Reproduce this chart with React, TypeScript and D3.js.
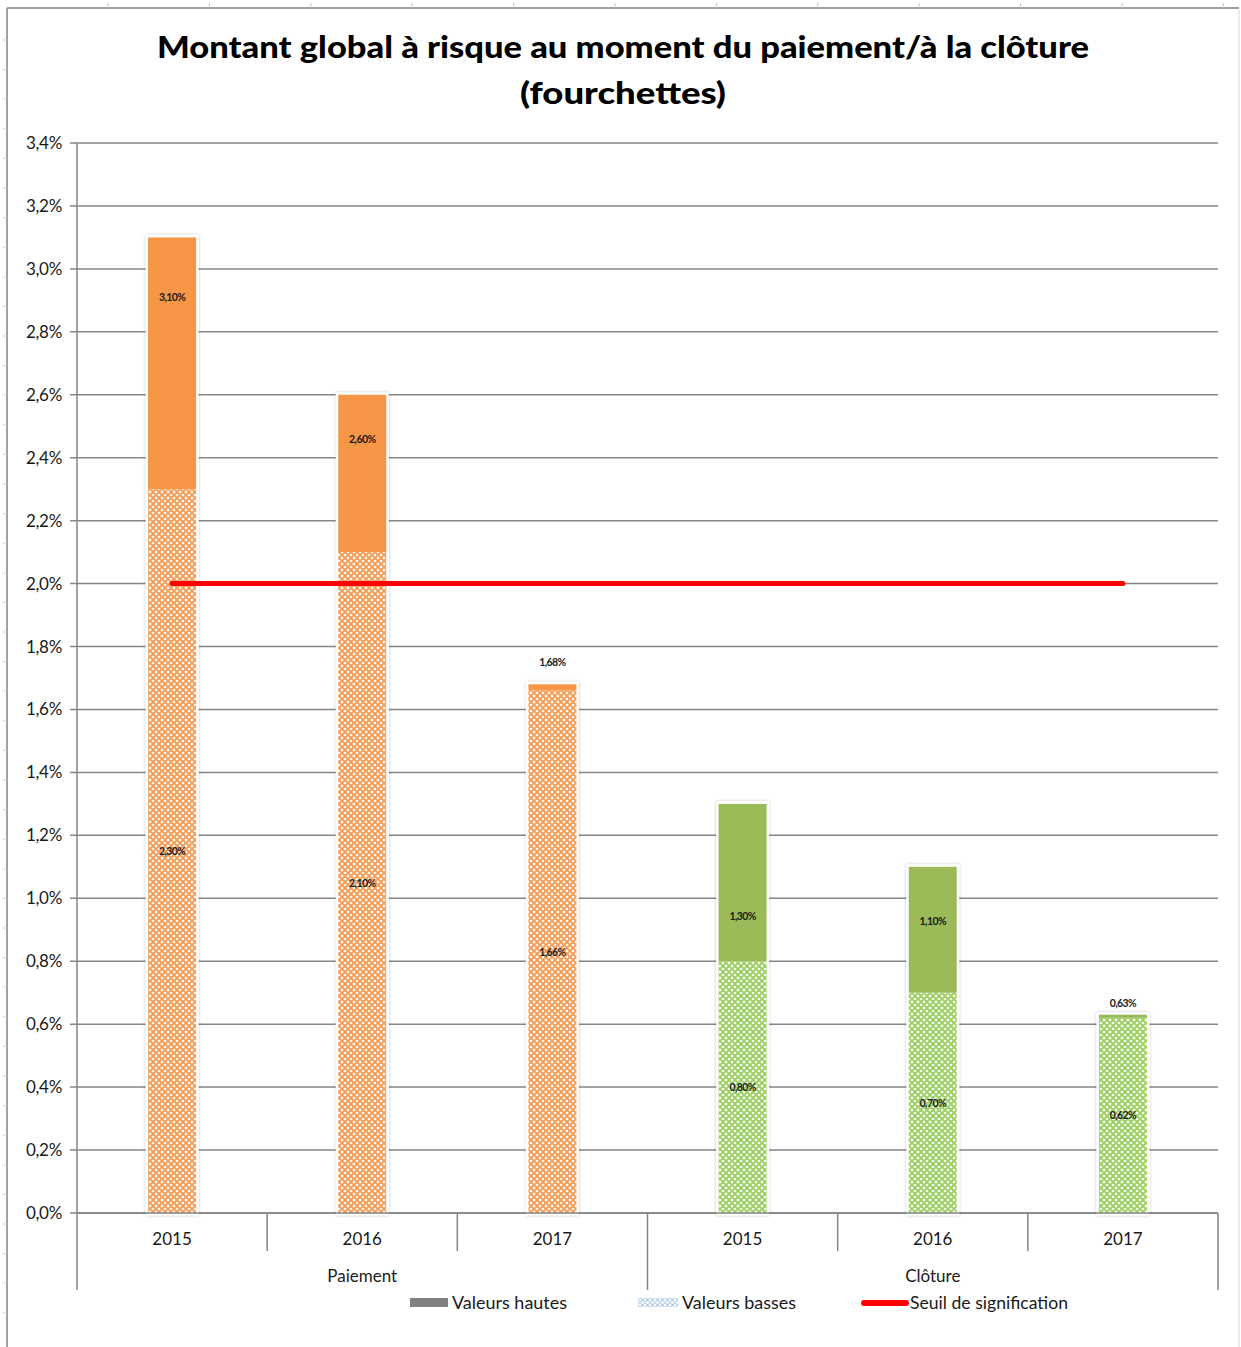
import React from "react";
import * as d3 from "d3";

const groups = ["Paiement", "Clôture"];
const years = ["2015", "2016", "2017", "2015", "2016", "2017"];
const groupOf = [0, 0, 0, 1, 1, 1];
const lowValues = [2.3, 2.1, 1.66, 0.8, 0.7, 0.62];
const highValues = [3.1, 2.6, 1.68, 1.3, 1.1, 0.63];
const lowLabels = ["2,30%", "2,10%", "1,66%", "0,80%", "0,70%", "0,62%"];
const highLabels = ["3,10%", "2,60%", "1,68%", "1,30%", "1,10%", "0,63%"];
// label anchor (in value units) for the "high" labels
const highLabelAt = [2.91, 2.46, 1.75, 0.944, 0.928, 0.667];
const threshold = 2.0;
const yTicks = [0, 0.2, 0.4, 0.6, 0.8, 1.0, 1.2, 1.4, 1.6, 1.8, 2.0, 2.2, 2.4, 2.6, 2.8, 3.0, 3.2, 3.4];
const legendItems = ["Valeurs hautes", "Valeurs basses", "Seuil de signification"];

const W = 1241;
const H = 1347;
const FONT = "Lato, 'Open Sans', sans-serif";

export default function App() {
  const left = 77;
  const right = 1218;
  const top = 143;
  const bottom = 1213;
  const y = d3.scaleLinear().domain([0, 3.4]).range([bottom, top]);
  const x = d3
    .scaleBand<number>()
    .domain(years.map((_, i) => i))
    .range([left, right])
    .padding(0);
  const bw = x.bandwidth();
  const barW = 48;
  const cx = (i: number) => (x(i) as number) + bw / 2;
  const solid = ["#F79646", "#9BBB59"];
  const pats = ["url(#patO)", "url(#patG)"];
  const fmt = (v: number) => d3.format(".1f")(v).replace(".", ",") + "%";

  const rulerTop = d3.range(0, 12).map((k) => 108 + k * 101.4);
  const rulerLeft = d3.range(0, 44).map((k) => 40 + k * 29.6);

  return (
    <svg
      width={W}
      height={H}
      style={{ position: "absolute", left: 0, top: 0, background: "#fff" }}
      fontFamily={FONT}
    >
      <defs>
        <pattern id="patO" width="6" height="6" patternUnits="userSpaceOnUse">
          <rect width="6" height="6" fill="#fff" />
          <path d="M0,3 L3,0 L6,3 L3,6 Z" fill="none" stroke="#F79C55" strokeWidth="1.8" />
        </pattern>
        <pattern id="patG" width="6" height="6" patternUnits="userSpaceOnUse">
          <rect width="6" height="6" fill="#fff" />
          <path d="M0,3 L3,0 L6,3 L3,6 Z" fill="none" stroke="#9CD060" strokeWidth="1.8" />
        </pattern>
        <pattern id="patB" width="5" height="5" patternUnits="userSpaceOnUse">
          <rect width="5" height="5" fill="#fff" />
          <path d="M0,2.5 L2.5,0 L5,2.5 L2.5,5 Z" fill="none" stroke="#8DB4E2" strokeWidth="1" />
        </pattern>
        <filter id="sh" x="-20%" y="-5%" width="140%" height="110%">
          <feDropShadow dx="0" dy="0" stdDeviation="1.5" floodColor="#000" floodOpacity="0.25" />
        </filter>
      </defs>

      {/* outer frame */}
      <line x1={7} x2={1239} y1={8} y2={8} stroke="#a0a0a0" strokeWidth={2} />
      <line x1={7} x2={7} y1={8} y2={H} stroke="#a0a0a0" strokeWidth={2} />
      <line x1={1239} x2={1239} y1={10} y2={H} stroke="#d8d8d8" strokeWidth={1} />
      {rulerTop.map((t, i) => (
        <line key={"rt" + i} x1={t} x2={t} y1={3} y2={8} stroke="#c8c8c8" strokeWidth={1} />
      ))}
      {rulerLeft.map((t, i) => (
        <line key={"rl" + i} x1={3} x2={7} y1={t} y2={t} stroke="#d0d0d0" strokeWidth={1} />
      ))}

      {/* title */}
      <text
        x={623}
        y={58}
        textAnchor="middle"
        fontSize={31}
        fontWeight={900}
        textLength={932}
        lengthAdjust="spacingAndGlyphs"
        fill="#000"
      >
        Montant global à risque au moment du paiement/à la clôture
      </text>
      <text
        x={623}
        y={104}
        textAnchor="middle"
        fontSize={31}
        fontWeight={900}
        textLength={206}
        lengthAdjust="spacingAndGlyphs"
        fill="#000"
      >
        (fourchettes)
      </text>

      {/* gridlines + y ticks */}
      {yTicks.map((t, i) => (
        <g key={"g" + i}>
          <line x1={70} x2={right} y1={y(t)} y2={y(t)} stroke="#858585" strokeWidth={1.5} />
          <text x={62} y={y(t) + 6} textAnchor="end" fontSize={17} fill="#1a1a1a" letterSpacing={-0.3}>
            {fmt(t)}
          </text>
        </g>
      ))}

      {/* y axis line */}
      <line x1={left} x2={left} y1={top} y2={1290} stroke="#858585" strokeWidth={1.5} />

      {/* bars */}
      {years.map((_, i) => {
        const g = groupOf[i];
        const x0 = cx(i) - barW / 2;
        return (
          <g key={"b" + i}>
            <rect
              x={x0}
              y={y(highValues[i])}
              width={barW}
              height={y(0) - y(highValues[i])}
              fill="#fff"
              stroke="#fff"
              strokeWidth={5}
              filter="url(#sh)"
            />
            <rect
              x={x0}
              y={y(lowValues[i])}
              width={barW}
              height={y(0) - y(lowValues[i])}
              fill={pats[g]}
            />
            <rect
              x={x0}
              y={y(highValues[i])}
              width={barW}
              height={Math.max(y(lowValues[i]) - y(highValues[i]), 2)}
              fill={solid[g]}
            />
          </g>
        );
      })}

      {/* x axis */}
      <line x1={left} x2={right} y1={bottom} y2={bottom} stroke="#858585" strokeWidth={1.5} />
      {years.map((_, i) =>
        i === 0 ? null : (
          <line
            key={"sep" + i}
            x1={x(i) as number}
            x2={x(i) as number}
            y1={bottom}
            y2={i === 3 ? 1290 : 1251}
            stroke="#858585"
            strokeWidth={1.5}
          />
        )
      )}
      <line x1={right} x2={right} y1={bottom} y2={1290} stroke="#858585" strokeWidth={1.5} />
      {years.map((yr, i) => (
        <text key={"yl" + i} x={cx(i)} y={1245} textAnchor="middle" fontSize={17} fill="#1a1a1a">
          {yr}
        </text>
      ))}
      {groups.map((gname, gi) => (
        <text key={"gl" + gi} x={(cx(gi * 3) + cx(gi * 3 + 2)) / 2} y={1282} textAnchor="middle" fontSize={17} fill="#1a1a1a">
          {gname}
        </text>
      ))}

      {/* threshold */}
      <line
        x1={cx(0)}
        x2={cx(years.length - 1)}
        y1={y(threshold)}
        y2={y(threshold)}
        stroke="#FF0000"
        strokeWidth={5}
        strokeLinecap="round"
      />

      {/* data labels */}
      {years.map((_, i) => (
        <g key={"lb" + i} fontSize={10.5} fontWeight={700} fill="#1a1a1a" letterSpacing={-0.6}>
          <text x={cx(i)} y={(y(0) + y(lowValues[i])) / 2 + 4} textAnchor="middle">
            {lowLabels[i]}
          </text>
          <text x={cx(i)} y={y(highLabelAt[i]) + 4} textAnchor="middle">
            {highLabels[i]}
          </text>
        </g>
      ))}

      {/* legend */}
      <rect x={410} y={1298} width={38} height={9} fill="#808080" />
      <text x={452} y={1309} fontSize={18} fill="#1a1a1a" textLength={115} lengthAdjust="spacingAndGlyphs">
        {legendItems[0]}
      </text>
      <rect x={638} y={1298} width={40} height={9} fill="url(#patB)" />
      <text x={682} y={1309} fontSize={18} fill="#1a1a1a" textLength={114} lengthAdjust="spacingAndGlyphs">
        {legendItems[1]}
      </text>
      <line x1={864} x2={906} y1={1303} y2={1303} stroke="#FF0000" strokeWidth={6} strokeLinecap="round" />
      <text x={910} y={1309} fontSize={18} fill="#1a1a1a" textLength={158} lengthAdjust="spacingAndGlyphs">
        {legendItems[2]}
      </text>
    </svg>
  );
}
